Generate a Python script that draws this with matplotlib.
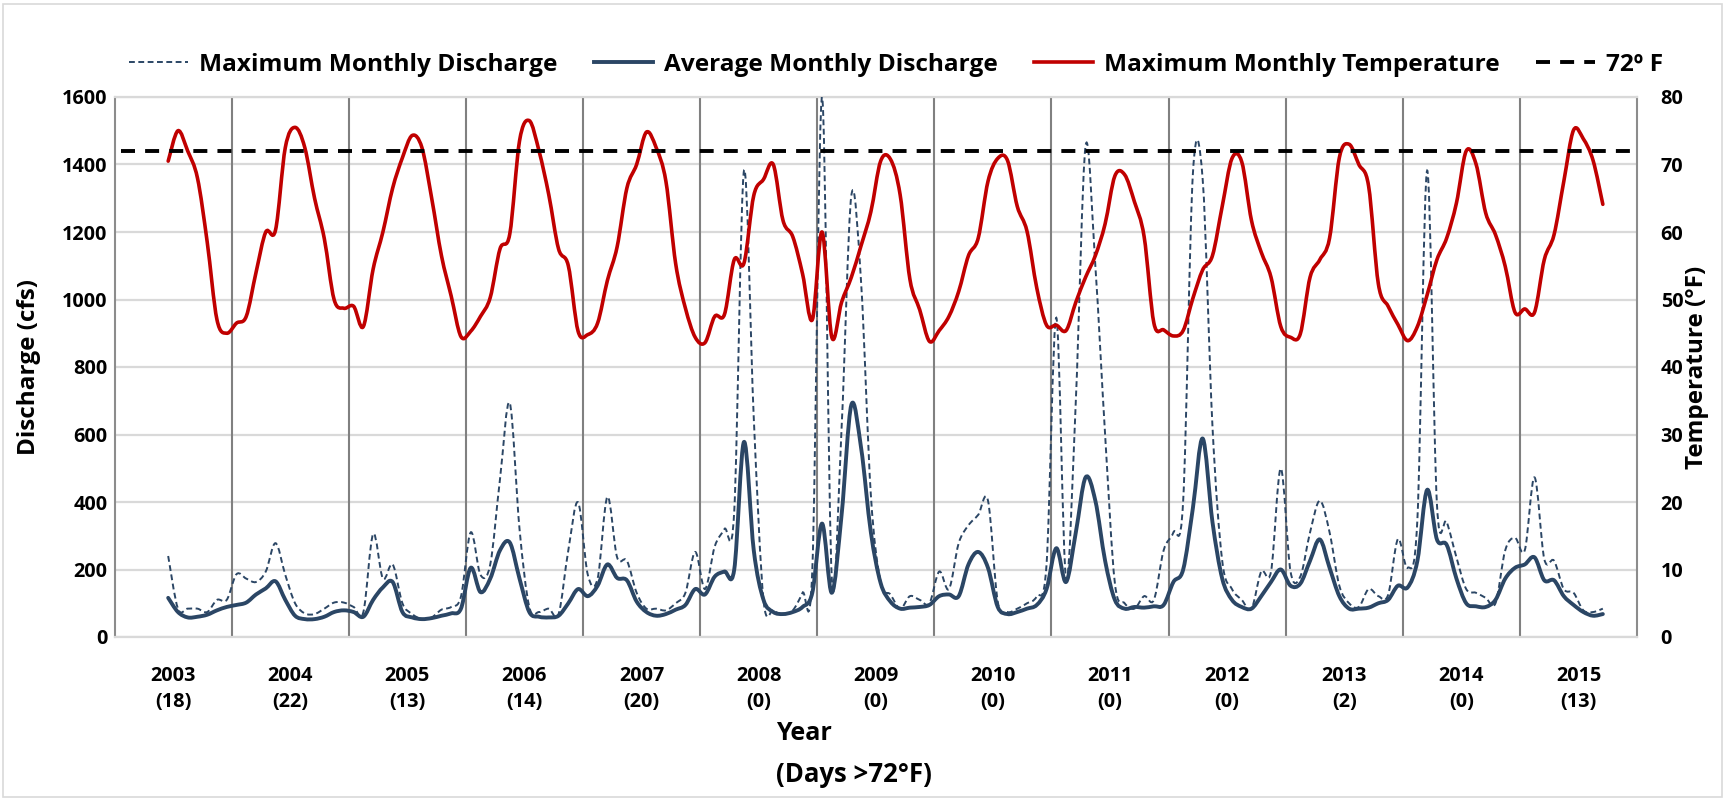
import numpy as np
import matplotlib
matplotlib.use("Agg")
import matplotlib.pyplot as plt
from matplotlib.path import Path
from matplotlib.patches import PathPatch, Rectangle
from matplotlib.lines import Line2D

plt.rcParams['font.family'] = ['Open Sans', 'DejaVu Sans']
plt.rcParams['font.weight'] = 'bold'

# ---------------- data (monthly, Jun 2003 - Sep 2015) ----------------
start_year, start_month = 2003, 6
years = list(range(2003, 2016))
days_over_72 = [18, 22, 13, 14, 20, 0, 0, 0, 0, 0, 2, 0, 13]

max_temp = [
    70.5, 75.0, 72.0, 68.0, 58.5, 47.0, 45.0,                                   # 2003
    46.5, 47.5, 54.0, 60.0, 60.3, 72.5, 75.5, 72.5, 65.0, 59.0, 50.0, 48.7,     # 2004
    49.0, 46.0, 54.5, 60.0, 66.5, 71.0, 74.3, 72.5, 65.0, 56.5, 50.5, 44.5,     # 2005
    45.3, 47.5, 50.3, 57.5, 59.7, 73.5, 76.5, 72.0, 65.5, 57.5, 55.0, 45.3,     # 2006
    44.8, 46.5, 52.8, 57.8, 66.5, 70.0, 74.8, 72.5, 67.5, 55.3, 48.7, 44.4,     # 2007
    43.6, 47.5, 47.8, 55.9, 55.4, 65.4, 67.8, 70.0, 61.7, 59.3, 53.8, 47.0,     # 2008
    60.0, 44.4, 49.6, 53.3, 58.0, 63.0, 70.5, 70.8, 65.5, 53.0, 48.5, 43.8,     # 2009
    45.4, 47.5, 51.2, 56.5, 59.1, 67.5, 70.9, 70.6, 63.8, 60.1, 51.7, 46.2,     # 2010
    46.2, 45.4, 49.6, 53.3, 56.5, 61.2, 68.3, 68.5, 64.5, 59.3, 46.5, 45.5,     # 2011
    44.6, 45.4, 50.2, 54.4, 56.5, 63.8, 70.9, 70.4, 61.7, 57.0, 53.3, 46.0,     # 2012
    44.4, 44.9, 53.3, 55.9, 59.1, 71.0, 73.0, 70.0, 66.8, 52.3, 49.0, 46.3,     # 2013
    43.9, 46.0, 50.7, 55.9, 59.1, 64.3, 72.0, 70.1, 62.8, 59.6, 54.9, 48.1,     # 2014
    48.6, 48.1, 55.9, 59.6, 67.5, 75.1, 73.8, 70.6, 64.1,                       # 2015
]

max_discharge = [
    240, 84, 84, 84, 74, 110, 110,                                              # 2003
    186, 173, 163, 194, 278, 184, 100, 70, 68, 84, 102, 102,                    # 2004
    89, 74, 305, 173, 215, 100, 68, 53, 58, 81, 89, 120,                        # 2005
    310, 184, 215, 468, 693, 320, 89, 74, 84, 68, 257, 399,                     # 2006
    184, 173, 415, 236, 226, 131, 84, 84, 79, 100, 131, 252,                    # 2007
    142, 268, 320, 373, 1382, 650, 110, 79, 68, 79, 131, 200,                   # 2008
    1600, 173, 620, 1308, 1050, 420, 163, 126, 84, 121, 110, 100,               # 2009
    194, 142, 278, 331, 362, 404, 105, 74, 84, 100, 121, 215,                   # 2010
    946, 173, 700, 1455, 1100, 600, 160, 100, 84, 121, 110, 257,                # 2011
    310, 404, 1375, 1355, 625, 226, 142, 110, 84, 194, 194, 499,                # 2012
    194, 179, 310, 404, 310, 152, 100, 89, 142, 121, 125, 290,                  # 2013
    205, 350, 1382, 394, 341, 236, 142, 131, 116, 100, 257, 294,                # 2014
    257, 473, 231, 226, 142, 131, 79, 74, 84,                                   # 2015
]

avg_discharge = [
    116, 74, 58, 60, 66, 79, 89,                                                # 2003
    95, 102, 126, 144, 165, 110, 63, 53, 53, 60, 74, 79,                        # 2004
    74, 60, 110, 147, 163, 74, 58, 53, 56, 63, 70, 84,                          # 2005
    205, 133, 173, 257, 280, 173, 74, 60, 58, 63, 100, 142,                     # 2006
    121, 152, 215, 175, 168, 105, 74, 63, 68, 81, 95, 142,                      # 2007
    126, 179, 194, 200, 578, 257, 110, 74, 68, 74, 89, 131,                     # 2008
    336, 131, 362, 688, 560, 310, 160, 105, 84, 87, 89, 95,                     # 2009
    121, 126, 121, 215, 252, 205, 89, 68, 74, 84, 95, 142,                      # 2010
    263, 163, 310, 473, 404, 226, 110, 84, 89, 87, 91, 95,                      # 2011
    163, 200, 383, 588, 341, 173, 110, 89, 84, 121, 163, 200,                   # 2012
    152, 158, 226, 289, 205, 121, 84, 84, 87, 100, 110, 152,                    # 2013
    147, 226, 436, 289, 273, 173, 100, 91, 89, 110, 173, 205,                   # 2014
    215, 236, 168, 168, 121, 95, 74, 63, 68,                                    # 2015
]

threshold_temp = 72

# ---------------- helpers ----------------
def smooth_path(x, y):
    """Excel-like smoothed line (Catmull-Rom through the data points)."""
    x = np.asarray(x, float)
    y = np.asarray(y, float)
    n = len(x)
    verts = [(x[0], y[0])]
    codes = [Path.MOVETO]
    for i in range(n - 1):
        p0 = np.array([x[i - 1], y[i - 1]]) if i > 0 else np.array([x[i], y[i]])
        p1 = np.array([x[i], y[i]])
        p2 = np.array([x[i + 1], y[i + 1]])
        p3 = np.array([x[i + 2], y[i + 2]]) if i + 2 < n else p2
        c1 = p1 + (p2 - p0) / 6.0
        c2 = p2 - (p3 - p1) / 6.0
        verts += [tuple(c1), tuple(c2), tuple(p2)]
        codes += [Path.CURVE4] * 3
    return Path(verts, codes)

n = len(max_temp)
month_index = np.arange(n) + (start_month - 1)
xpos = (month_index + 0.5) / 12.0   # in "years since 2003"

# ---------------- figure ----------------
W, H = 1731, 800
fig = plt.figure(figsize=(W / 100, H / 100), dpi=100)
fig.patches.append(Rectangle((3 / W, 3 / H), (1722 - 3) / W, (796 - 3) / H,
                             transform=fig.transFigure, fill=False,
                             edgecolor='#d9d9d9', lw=1.2))

left, right, top, bottom = 114.5, 1637, 97, 637
ax = fig.add_axes([left / W, 1 - bottom / H, (right - left) / W, (bottom - top) / H])
ax2 = ax.twinx()

navy = '#2b4665'
red = '#c00000'

ax.set_xlim(0, len(years))
ax.set_ylim(0, 1600)
ax2.set_ylim(0, 80)

# grid + separators
ax.set_yticks(range(0, 1601, 200))
ax.yaxis.grid(True, color='#d9d9d9', lw=1.6, zorder=0)
ax.set_axisbelow(True)
for i in range(1, len(years)):
    ax.axvline(i, color='#808080', lw=1.5, zorder=1)

# discharge series
ax.add_patch(PathPatch(smooth_path(xpos, max_discharge), fill=False, edgecolor=navy,
                       lw=1.4, linestyle=(0, (3.0, 1.8)), zorder=3, capstyle='butt'))
ax.add_patch(PathPatch(smooth_path(xpos, avg_discharge), fill=False, edgecolor=navy,
                       lw=2.8, zorder=4, joinstyle='round', capstyle='round'))

# temperature series
ax2.add_patch(PathPatch(smooth_path(xpos, max_temp), fill=False, edgecolor=red,
                        lw=2.6, zorder=4, joinstyle='round', capstyle='round'))
ax2.axhline(threshold_temp, xmin=0.004, xmax=0.997, color='black', lw=2.8,
            linestyle=(0, (3.6, 2.6)), zorder=5)

# axes styling
for sp in ['top', 'bottom']:
    ax.spines[sp].set_color('#d9d9d9')
    ax.spines[sp].set_linewidth(1.6)
for sp in ['left', 'right']:
    ax.spines[sp].set_color('#8c8c8c')
    ax.spines[sp].set_linewidth(1.5)
for sp in ax2.spines.values():
    sp.set_visible(False)

ax.set_xticks(np.arange(len(years)) + 0.5)
ax.set_xticklabels([f"{y}\n({d})" for y, d in zip(years, days_over_72)],
                   fontsize=14.3, fontweight='bold', linespacing=1.4)
ax.tick_params(axis='x', length=0, pad=21)
ax.tick_params(axis='y', length=0, pad=5, labelsize=14.3)
ax2.set_yticks(range(0, 81, 10))
ax2.tick_params(axis='y', length=0, pad=17, labelsize=14.3)
for lab in ax.get_yticklabels() + ax2.get_yticklabels():
    lab.set_fontweight('bold')

ax.set_ylabel('Discharge (cfs)', fontsize=17.5, fontweight='bold', labelpad=15)
ax2.set_ylabel('Temperature (°F)', fontsize=17.5, fontweight='bold', labelpad=1)
fig.text(776 / W, 1 - 734 / H, 'Year', ha='left', va='center',
         fontsize=18, fontweight='bold')
fig.text(776 / W, 1 - 775 / H, '(Days >72°F)', ha='left', va='center',
         fontsize=18.5, fontweight='bold')

# legend
handles = [
    Line2D([], [], color=navy, lw=1.4, linestyle=(0, (3.0, 1.8))),
    Line2D([], [], color=navy, lw=2.8),
    Line2D([], [], color=red, lw=2.6),
    Line2D([], [], color='black', lw=2.8, linestyle=(0, (3.6, 2.6))),
]
labels = ['Maximum Monthly Discharge', 'Average Monthly Discharge',
          'Maximum Monthly Temperature', '72º F']
fig.legend(handles, labels, loc='center', bbox_to_anchor=(896 / W, 1 - 65 / H),
           ncol=4, frameon=False, prop={'size': 17.6, 'weight': 'bold'},
           handlelength=2.4, handletextpad=0.45, columnspacing=1.5)

fig.savefig('out.png', dpi=100, facecolor='white')
